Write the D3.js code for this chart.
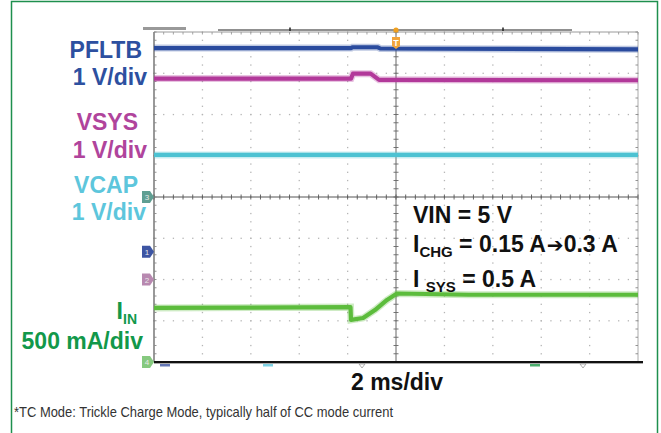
<!DOCTYPE html>
<html><head><meta charset="utf-8">
<script src="https://cdn.jsdelivr.net/npm/d3@7"></script>
<style>
html,body{margin:0;padding:0;background:#fff;}
svg{display:block;}
text{font-family:"Liberation Sans",Arial,sans-serif;}
</style></head>
<body>
<svg id="c" width="661" height="433"></svg>
<script>
// ---- data (time in ms relative to trigger, values in channel units) ----
const pfltbT = [-10, -1.85, -1.8, -0.75, -0.65, 10];
const pfltbV = [4.94, 4.94, 4.96, 4.96, 4.93, 4.91];
const vsysT  = [-10, -1.86, -1.78, -1.05, -0.7, 0, 10];
const vsysV  = [4.87, 4.87, 4.99, 4.99, 4.84, 4.84, 4.83];
const vcapT  = [-10, 10];
const vcapV  = [1.02, 1.02];
const iinT   = [-10, -6, -1.88, -1.86, -1.36, -0.87, -0.37, 0.04, 3, 10];
const iinA   = [0.655, 0.66, 0.665, 0.51, 0.533, 0.63, 0.752, 0.83, 0.815, 0.815];
const channelNames = ["PFLTB", "VSYS", "VCAP", "IIN"];
const channelGroundDiv = [2.67, 2.0, 4.0, 0];   // ground marker positions (div)
const channelPerDiv = [1, 1, 1, 0.5];           // V/div, A/div
const xDivs = 10, yDivs = 8, minorPerDiv = 5;
const timePerDiv = 2; // ms/div

const svg = d3.select("#c");
const L = 154, R = 638, T = 32, B = 362;
const x = d3.scaleLinear().domain([-xDivs*timePerDiv/2, xDivs*timePerDiv/2]).range([L, R]);
const yDiv = d3.scaleLinear().domain([0, yDivs]).range([B, T]);

// outer green frame
svg.append("rect").attr("x", 11.5).attr("y", 1.5).attr("width", 646).attr("height", 460)
  .attr("fill", "none").attr("stroke", "#1e8f4e").attr("stroke-width", 1.5);

const g = svg.append("g");

// dotted grid
const dx = (R - L) / xDivs, dy = (B - T) / yDivs;
const dots = [];
for (let i = 1; i < xDivs; i++) {
  if (i === xDivs/2) continue;
  for (let k = 0; k <= yDivs*minorPerDiv; k++) dots.push([L + i*dx, T + k*dy/minorPerDiv]);
}
for (let j = 1; j < yDivs; j++) {
  if (j === yDivs/2) continue;
  for (let k = 0; k <= xDivs*minorPerDiv; k++) dots.push([L + k*dx/minorPerDiv, T + j*dy]);
}
g.selectAll("rect.dot").data(dots).enter().append("rect").attr("class","dot")
  .attr("x", d => d[0]-0.6).attr("y", d => d[1]-0.6).attr("width", 1.3).attr("height", 1.3)
  .attr("fill", "#b5b5b5");

// plot frame
g.append("line").attr("x1", L).attr("x2", R).attr("y1", T).attr("y2", T).attr("stroke", "#9a9a9a").attr("stroke-width", 1);
g.append("line").attr("x1", R).attr("x2", R).attr("y1", T).attr("y2", B).attr("stroke", "#aaaaaa").attr("stroke-width", 1);
g.append("line").attr("x1", L).attr("x2", L).attr("y1", T).attr("y2", B).attr("stroke", "#555").attr("stroke-width", 1.2);

// centre axes with minor ticks
const cx = x(0), cy = yDiv(yDivs/2);
g.append("line").attr("x1", L).attr("x2", R).attr("y1", cy).attr("y2", cy).attr("stroke", "#555").attr("stroke-width", 1);
g.append("line").attr("x1", cx).attr("x2", cx).attr("y1", T).attr("y2", B).attr("stroke", "#666").attr("stroke-width", 1);
const hTicks = d3.range(0, xDivs*minorPerDiv+1).map(k => L + k*dx/minorPerDiv);
const vTicks = d3.range(0, yDivs*minorPerDiv+1).map(k => T + k*dy/minorPerDiv);
[cy, T].forEach((yy, idx) => {
  g.selectAll(null).data(hTicks).enter().append("line")
    .attr("x1", d => d).attr("x2", d => d).attr("y1", yy - (idx?0:2.5)).attr("y2", yy + 2.5)
    .attr("stroke", idx ? "#999" : "#555").attr("stroke-width", 0.9);
});
[cx, L, R].forEach((xx, idx) => {
  g.selectAll(null).data(vTicks).enter().append("line")
    .attr("x1", xx - (idx===2?2.5:(idx===1?0:2.5))).attr("x2", xx + (idx===2?0:2.5)).attr("y1", d => d).attr("y2", d => d)
    .attr("stroke", idx ? "#888" : "#666").attr("stroke-width", 0.9);
});
// bottom thick edge
g.append("line").attr("x1", L).attr("x2", 643).attr("y1", B+1.5).attr("y2", B+1.5).attr("stroke", "#aaa").attr("stroke-width", 1.2);
g.append("line").attr("x1", L).attr("x2", 643).attr("y1", B).attr("y2", B).attr("stroke", "#111").attr("stroke-width", 2.2);

// record bar at the top
svg.append("line").attr("x1", 218).attr("x2", 572).attr("y1", 30).attr("y2", 30).attr("stroke", "#222").attr("stroke-width", 1.2);
[290, 503].forEach(p => svg.append("line").attr("x1", p).attr("x2", p).attr("y1", 27.5).attr("y2", 31).attr("stroke", "#222").attr("stroke-width", 1.5));
svg.append("rect").attr("x", 143).attr("y", 27).attr("width", 43).attr("height", 3).attr("fill", "#555").attr("opacity", 0.6);

// traces
const traceColors = ["#2a4b9e", "#b2399a", "#4cc2d2", "#5cbc3c"];
const series = [[pfltbT, pfltbV], [vsysT, vsysV], [vcapT, vcapV], [iinT, iinA]];
series.forEach((s, i) => {
  const pts = s[0].map((t, k) => [t, s[1][k]]);
  const line = d3.line().x(d => x(d[0])).y(d => yDiv(channelGroundDiv[i] + d[1] / channelPerDiv[i]));
  g.append("path").attr("d", line(pts)).attr("fill", "none").attr("stroke", traceColors[i])
    .attr("stroke-width", 7).attr("opacity", 0.3);
  g.append("path").attr("d", line(pts)).attr("fill", "none").attr("stroke", traceColors[i])
    .attr("stroke-width", 4.2).attr("stroke-linejoin", "round");
});

// channel ground markers on the left edge
const markerColors = ["#3d55a3", "#b889b0", "#5f9e92", "#86c97f"];
const markerLabels = ["1", "2", "3", "4"];
channelGroundDiv.forEach((gd, i) => {
  const yy = yDiv(gd);
  const mg = svg.append("g").attr("transform", `translate(${L},${yy})`);
  mg.append("path").attr("d", "M-12,-6 L-4,-6 L0,0 L-4,6 L-12,6 Z").attr("fill", markerColors[i]);
  mg.append("text").attr("x", -7).attr("y", 3).attr("text-anchor", "middle").attr("font-size", 8)
    .attr("fill", "#e8e8e8").text(markerLabels[i]);
});

// trigger marker
svg.append("circle").attr("cx", cx).attr("cy", 30).attr("r", 2.6).attr("fill", "#f0a020");
svg.append("path").attr("d", `M${cx-4},37 L${cx+4},37 L${cx+4},46 L${cx},49 L${cx-4},46 Z`).attr("fill", "#f2a43a");
svg.append("text").attr("x", cx).attr("y", 45.5).attr("text-anchor", "middle").attr("font-size", 9)
  .attr("font-weight", "bold").attr("fill", "#fff").text("T");

// small readout markers under the graticule
const bottomMarks = [[165, "#3d55a3"], [268, "#5ec6dc"], [535, "#1f9a4a"]];
bottomMarks.forEach(m => svg.append("rect").attr("x", m[0]-5).attr("y", 364).attr("width", 10).attr("height", 2.5).attr("fill", m[1]).attr("opacity", 0.8));
[362, 583].forEach(p => svg.append("path").attr("d", `M${p-3},364 L${p+3},364 L${p},368 Z`).attr("fill", "none").attr("stroke", "#999").attr("stroke-width", 0.8));

// left channel labels
const labelColors = ["#2d50a0", "#b0449c", "#5dc6dc", "#12984a"];
function label(txt, xr, yb, col) {
  svg.append("text").attr("x", xr).attr("y", yb).attr("text-anchor", "end")
    .attr("font-size", 23).attr("font-weight", "bold")
    .attr("fill", col).text(txt);
}
label(channelNames[0], 142, 58, labelColors[0]);
label("1 V/div", 147, 85, labelColors[0]);
label(channelNames[1], 138, 130, labelColors[1]);
label("1 V/div", 147, 158, labelColors[1]);
label(channelNames[2], 138, 193, labelColors[2]);
label("1 V/div", 146, 220, labelColors[2]);
const iin = svg.append("text").attr("x", 137).attr("y", 319).attr("text-anchor", "end")
  .attr("font-size", 23).attr("font-weight", "bold").attr("fill", labelColors[3]);
iin.append("tspan").text("I");
iin.append("tspan").attr("font-size", 14).attr("dy", 5).text("IN");
label("500 mA/div", 143, 349, labelColors[3]);

// annotations
function annot(yb) {
  return svg.append("text").attr("x", 413).attr("y", yb).attr("font-size", 23)
    .attr("font-weight", "bold").attr("fill", "#111");
}
annot(223).text("VIN = 5 V");
const a2 = annot(252);
a2.append("tspan").text("I");
a2.append("tspan").attr("font-size", 15).attr("dy", 5).text("CHG");
a2.append("tspan").attr("dy", -5).text(" = 0.15 A");
a2.append("tspan").attr("font-family", "'DejaVu Sans',sans-serif").attr("font-size", 20).attr("dx", 1).text("\u2794");
a2.append("tspan").text("0.3 A");
const a3 = annot(287);
a3.append("tspan").text("I ");
a3.append("tspan").attr("font-size", 15).attr("dy", 5).text("SYS");
a3.append("tspan").attr("dy", -5).text(" = 0.5 A");

// time scale label
svg.append("text").attr("x", 397).attr("y", 390).attr("text-anchor", "middle")
  .attr("font-size", 23).attr("font-weight", "bold").attr("fill", "#111")
  .text(timePerDiv + " ms/div");

// footnote
svg.append("text").attr("x", 14).attr("y", 417).attr("font-size", 15)
  .attr("font-family", "'Liberation Sans Narrow','Arial Narrow',sans-serif")
  .attr("fill", "#333").attr("textLength", 379).attr("lengthAdjust", "spacingAndGlyphs")
  .text("*TC Mode: Trickle Charge Mode, typically half of CC mode current");
</script>
</body></html>
